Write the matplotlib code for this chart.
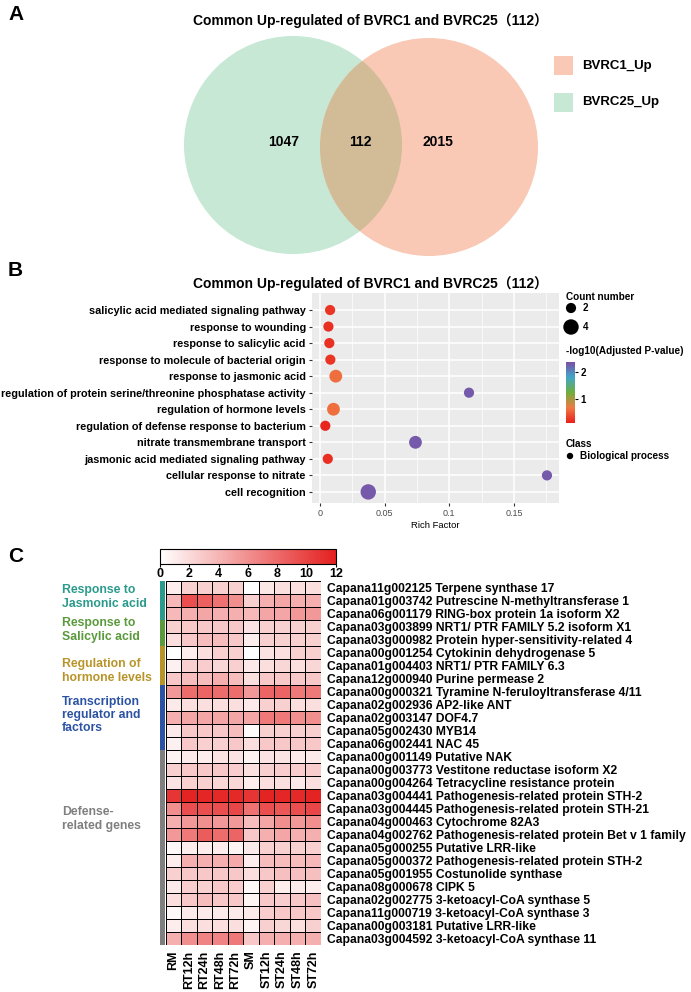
import numpy as np
import matplotlib
matplotlib.use("Agg")
import matplotlib.pyplot as plt
from matplotlib.patches import Circle, Rectangle
from matplotlib.colors import LinearSegmentedColormap, ListedColormap, Normalize
from matplotlib.colorbar import ColorbarBase

plt.rcParams['font.family'] = ['Liberation Sans', 'Noto Sans CJK SC', 'DejaVu Sans']

W, H = 691, 992

# ---------------- data ----------------
title = "Common Up-regulated of BVRC1 and BVRC25（112）"
venn_sets = ["BVRC1_Up", "BVRC25_Up"]
venn_counts = [1047, 112, 2015]   # only BVRC25, both, only BVRC1

go_terms = ["salicylic acid mediated signaling pathway", "response to wounding",
            "response to salicylic acid", "response to molecule of bacterial origin",
            "response to jasmonic acid",
            "regulation of protein serine/threonine phosphatase activity",
            "regulation of hormone levels", "regulation of defense response to bacterium",
            "nitrate transmembrane transport", "jasmonic acid mediated signaling pathway",
            "cellular response to nitrate", "cell recognition"]
rich_factor = [0.0078, 0.0065, 0.0072, 0.0080, 0.0122, 0.1152,
               0.0104, 0.0041, 0.0738, 0.0060, 0.1755, 0.0373]
go_count = [2, 2, 2, 2, 3, 2, 3, 2, 3, 2, 2, 4]
neglog_p = [0.25, 0.2, 0.22, 0.25, 0.6, 2.3, 0.6, 0.15, 2.3, 0.2, 2.3, 2.3]

samples = ["RM", "RT12h", "RT24h", "RT48h", "RT72h", "SM", "ST12h", "ST24h", "ST48h", "ST72h"]
genes = ["Capana11g002125 Terpene synthase 17",
         "Capana01g003742 Putrescine N-methyltransferase 1",
         "Capana06g001179 RING-box protein 1a isoform X2",
         "Capana03g003899 NRT1/ PTR FAMILY 5.2 isoform X1",
         "Capana03g000982 Protein hyper-sensitivity-related 4",
         "Capana00g001254 Cytokinin dehydrogenase 5",
         "Capana01g004403 NRT1/ PTR FAMILY 6.3",
         "Capana12g000940 Purine permease 2",
         "Capana00g000321 Tyramine N-feruloyltransferase 4/11",
         "Capana02g002936 AP2-like ANT",
         "Capana02g003147 DOF4.7",
         "Capana05g002430 MYB14",
         "Capana06g002441 NAC 45",
         "Capana00g001149 Putative NAK",
         "Capana00g003773 Vestitone reductase isoform X2",
         "Capana00g004264 Tetracycline resistance protein",
         "Capana03g004441 Pathogenesis-related protein STH-2",
         "Capana03g004445 Pathogenesis-related protein STH-21",
         "Capana04g000463 Cytochrome 82A3",
         "Capana04g002762 Pathogenesis-related protein Bet v 1 family",
         "Capana05g000255 Putative LRR-like",
         "Capana05g000372 Pathogenesis-related protein STH-2",
         "Capana05g001955 Costunolide synthase",
         "Capana08g000678 CIPK 5",
         "Capana02g002775 3-ketoacyl-CoA synthase 5",
         "Capana11g000719 3-ketoacyl-CoA synthase 3",
         "Capana00g003181 Putative LRR-like",
         "Capana03g004592 3-ketoacyl-CoA synthase 11"]
expr = [
    [1.0, 2.5, 2.5, 2.5, 2.5, 0.0, 1.3, 1.8, 1.8, 1.8],
    [3.8, 9.5, 8.5, 7.5, 6.0, 2.5, 4.3, 4.8, 4.3, 4.3],
    [3.8, 4.3, 4.8, 4.3, 4.3, 3.8, 4.8, 4.8, 5.5, 5.5],
    [2.5, 3.0, 3.0, 3.0, 3.0, 1.5, 2.5, 2.5, 2.5, 2.5],
    [1.8, 3.0, 3.6, 3.6, 3.0, 1.0, 2.5, 2.5, 2.5, 2.5],
    [0.0, 1.0, 1.8, 2.5, 2.5, 0.0, 1.5, 1.8, 2.5, 2.5],
    [0.8, 2.5, 2.7, 2.2, 2.5, 1.2, 1.8, 2.2, 1.8, 2.2],
    [3.0, 3.6, 3.6, 4.3, 3.6, 1.8, 3.0, 3.0, 3.0, 3.0],
    [5.5, 7.8, 8.3, 7.8, 7.8, 5.5, 8.3, 8.3, 7.2, 7.2],
    [1.2, 1.8, 1.8, 1.8, 1.8, 1.2, 2.5, 2.5, 1.8, 1.8],
    [4.3, 4.8, 4.8, 4.8, 4.8, 4.8, 7.2, 7.2, 6.0, 6.0],
    [1.2, 3.0, 3.0, 3.0, 3.6, 0.2, 2.5, 2.5, 2.5, 2.5],
    [0.8, 3.0, 2.5, 2.5, 3.0, 1.8, 3.0, 3.0, 3.0, 3.0],
    [0.7, 1.2, 1.0, 1.5, 1.5, 0.7, 1.5, 1.5, 1.2, 1.2],
    [2.5, 3.0, 3.0, 3.0, 2.7, 1.8, 2.5, 2.7, 2.7, 2.7],
    [1.5, 2.5, 2.5, 2.2, 2.2, 1.0, 1.8, 1.8, 1.2, 1.8],
    [10.8, 11.8, 11.6, 11.5, 11.5, 10.8, 11.8, 11.6, 11.5, 11.8],
    [6.0, 9.5, 9.5, 9.5, 9.8, 7.5, 9.5, 9.0, 9.5, 9.8],
    [4.3, 5.5, 6.0, 5.5, 5.5, 3.6, 4.8, 6.0, 5.5, 6.0],
    [5.5, 7.2, 8.7, 7.8, 8.3, 3.0, 4.3, 4.8, 4.3, 4.3],
    [0.4, 1.0, 1.0, 1.0, 0.6, 1.2, 2.5, 2.5, 2.5, 2.5],
    [1.0, 4.3, 4.3, 4.3, 4.6, 1.0, 3.6, 3.6, 3.6, 3.8],
    [2.5, 3.0, 3.0, 3.0, 3.0, 1.8, 3.0, 3.4, 3.4, 3.4],
    [1.2, 2.7, 2.5, 3.0, 2.7, 0.4, 2.5, 1.0, 1.2, 1.0],
    [1.8, 3.0, 3.6, 3.0, 3.0, 0.6, 3.0, 2.7, 3.0, 3.4],
    [0.4, 1.2, 1.2, 1.2, 1.2, 1.2, 2.7, 3.0, 3.0, 3.0],
    [1.0, 1.8, 1.8, 1.8, 1.8, 0.6, 2.5, 2.2, 1.8, 2.5],
    [4.3, 6.0, 6.6, 6.6, 7.2, 3.0, 4.3, 4.3, 4.3, 4.3],
]
categories = ["Response to\nJasmonic acid", "Response to\nSalicylic acid",
              "Regulation of\nhormone levels", "Transcription\nregulator and\nfactors",
              "Defense-\nrelated genes"]
cat_rows = [3, 2, 3, 5, 15]
cat_colors = ["#2a9a8c", "#5a9a3c", "#b89428", "#2c53a3", "#7f7f7f"]


def box(x0, y0, x1, y1):
    return [x0 / W, 1 - y1 / H, (x1 - x0) / W, (y1 - y0) / H]


fig = plt.figure(figsize=(W / 100, H / 100), dpi=100)
bg = fig.add_axes([0, 0, 1, 1])
bg.set_xlim(0, W)
bg.set_ylim(H, 0)
bg.axis("off")

# panel letters
for lab, y in [("A", 15), ("B", 271), ("C", 556)]:
    bg.text(8, y, lab, fontsize=15, fontweight="bold", va="center", ha="left")

# ---------------- A: venn ----------------
bg.text(370, 21, title, fontsize=10, fontweight="bold", ha="center", va="center")
r = 109
g_c = Circle((293, 145), r, facecolor="#c6e8d5", edgecolor="none")
p_c = Circle((429, 147), r, facecolor="#f9c9b5", edgecolor="none")
bg.add_patch(g_c)
bg.add_patch(p_c)
lens = Circle((429, 147), r, facecolor="#d2bc98", edgecolor="none")
bg.add_patch(lens)
lens.set_clip_path(g_c)
for x, n in zip([284, 360, 438], venn_counts):
    bg.text(x, 142, str(n), fontsize=10, fontweight="bold", ha="center", va="center")
for y, lab, c in [(56, venn_sets[0], "#f9c9b5"), (93, venn_sets[1], "#c6e8d5")]:
    bg.add_patch(Rectangle((554, y), 19, 19, facecolor=c, edgecolor="none"))
    bg.text(582, y + 9.5, lab, fontsize=9.5, fontweight="bold", ha="left", va="center")

# ---------------- B: GO dot plot ----------------
bg.text(370, 284, title, fontsize=10, fontweight="bold", ha="center", va="center")
rb_cmap = LinearSegmentedColormap.from_list(
    "rb", ["#e8201c", "#ef7a42", "#6fae3c", "#41a6c8", "#7b4fa6"])
p_norm = Normalize(0.11, 2.37)

axb = fig.add_axes(box(312, 293, 559, 503))
axb.set_facecolor("#ebebeb")
yy = np.arange(len(go_terms))
sizes = [(5 + 2.6 * c) * 0.72 for c in go_count]
axb.scatter(rich_factor, yy, s=np.array(sizes) ** 2, c=neglog_p, cmap=rb_cmap,
            norm=p_norm, edgecolors="none", zorder=3)
axb.set_xlim(-0.0062, 0.1848)
axb.set_ylim(11.67, -1.03)
axb.set_yticks(yy)
axb.set_yticklabels(go_terms, fontsize=7.8, fontweight="bold")
axb.set_xticks([0, 0.05, 0.1, 0.15])
axb.set_xticklabels(["0", "0.05", "0.1", "0.15"], fontsize=6.5, color="#4d4d4d")
axb.set_xticks([0.025, 0.075, 0.125, 0.175], minor=True)
axb.grid(True, which="major", color="white", linewidth=1.1)
axb.grid(True, which="minor", axis="x", color="white", linewidth=0.5)
axb.set_axisbelow(True)
axb.tick_params(axis="both", which="major", length=2.5, width=0.8, color="#333333", pad=2)
axb.tick_params(axis="x", which="minor", length=0)
for s in axb.spines.values():
    s.set_visible(False)
axb.set_xlabel("Rich Factor", fontsize=6.8, labelpad=2)

# legends of B
bg.text(566, 297, "Count number", fontsize=7.2, fontweight="bold", va="center")
for y, c in [(308, 2), (327, 4)]:
    d = 5 + 2.6 * c
    bg.add_patch(Circle((571, y), d / 2, facecolor="black", edgecolor="none"))
    bg.text(583, y, str(c), fontsize=7, fontweight="bold", va="center")
bg.text(566, 351, "-log10(Adjusted P-value)", fontsize=7.2, fontweight="bold", va="center")
cax = fig.add_axes(box(566, 362, 575, 423))
cb = ColorbarBase(cax, cmap=rb_cmap, norm=p_norm, orientation="vertical")
cb.outline.set_visible(False)
cb.set_ticks([1, 2])
cb.set_ticklabels(["1", "2"])
cax.tick_params(length=2.5, width=0.8, labelsize=7, pad=1.5)
for t in cax.get_yticklabels():
    t.set_fontweight("bold")
bg.text(566, 444, "Class", fontsize=7.2, fontweight="bold", va="center")
bg.add_patch(Circle((570, 456), 3.2, facecolor="black", edgecolor="none"))
bg.text(580, 456, "Biological process", fontsize=7.2, fontweight="bold", va="center")

# ---------------- C: heatmap ----------------
red_cmap = LinearSegmentedColormap.from_list("wr", ["#ffffff", "#e41f1f"])
axc = fig.add_axes(box(165.5, 581, 321, 945))
axc.pcolormesh(np.array(expr), cmap=red_cmap, vmin=0, vmax=12,
               edgecolors="black", linewidth=0.55)
axc.set_xlim(0, len(samples))
axc.set_ylim(len(genes), 0)
axc.yaxis.tick_right()
axc.set_yticks(np.arange(len(genes)) + 0.5)
axc.set_yticklabels(genes, fontsize=8.7, fontweight="bold")
axc.set_xticks(np.arange(len(samples)) + 0.5)
axc.set_xticklabels(samples, rotation=90, fontsize=9, fontweight="bold")
axc.tick_params(length=0, pad=4)
for s in axc.spines.values():
    s.set_visible(False)

# category bar
axk = fig.add_axes(box(160, 581, 164.5, 945))
codes = np.repeat(np.arange(len(cat_rows)), cat_rows)[:, None]
axk.pcolormesh(codes, cmap=ListedColormap(cat_colors), vmin=-0.5, vmax=len(cat_rows) - 0.5)
axk.set_ylim(len(genes), 0)
axk.axis("off")

cat_y = [597, 630, 671, 715, 819]
for lab, c, y in zip(categories, cat_colors, cat_y):
    bg.text(62, y, lab, fontsize=8.8, fontweight="bold", color=c, va="center",
            ha="left", linespacing=1.15)

# colour key
kax = fig.add_axes(box(160, 549, 336, 564))
kb = ColorbarBase(kax, cmap=red_cmap, norm=Normalize(0, 12), orientation="horizontal")
kb.outline.set_linewidth(0.8)
kb.set_ticks(range(0, 13, 2))
kax.tick_params(length=2, width=0.8, labelsize=9, pad=1)
for t in kax.get_xticklabels():
    t.set_fontweight("bold")

fig.savefig("out.png", dpi=100)
